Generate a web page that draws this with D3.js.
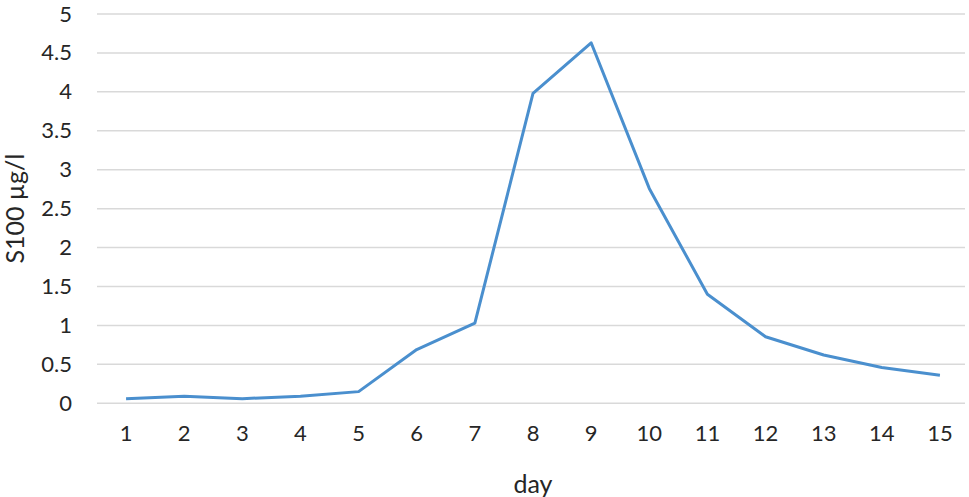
<!DOCTYPE html>
<html><head><meta charset="utf-8">
<script src="https://cdn.jsdelivr.net/npm/d3@7"></script>
<style>body{margin:0;background:#fff}svg{display:block}text{font-family:Lato,"Open Sans",sans-serif;fill:#262626}</style>
</head><body>
<script>
const days = ["1","2","3","4","5","6","7","8","9","10","11","12","13","14","15"];
const s100 = [0.06,0.09,0.06,0.09,0.15,0.69,1.03,3.98,4.63,2.76,1.40,0.855,0.62,0.46,0.36];
const yTicks = [0,0.5,1,1.5,2,2.5,3,3.5,4,4.5,5];
const yTickLabels = ["0","0.5","1","1.5","2","2.5","3","3.5","4","4.5","5"];
const xTitle = "day", yTitle = "S100 µg/l";

const W=969,H=497, L=97, R=969, T=14, B=403.3;
const svg=d3.select("body").append("svg").attr("width",W).attr("height",H);
const x=d3.scaleBand().domain(days).range([L,R]);
const y=d3.scaleLinear().domain([0,5]).range([B,T]);

svg.append("g").selectAll("line").data(yTicks).join("line")
  .attr("x1",L).attr("x2",965).attr("y1",d=>y(d)).attr("y2",d=>y(d))
  .attr("stroke","#d9d9d9").attr("stroke-width",1.5);

const ya=svg.append("g").attr("transform",`translate(${L},0)`)
  .call(d3.axisLeft(y).tickValues(yTicks).tickFormat((d,i)=>yTickLabels[i]).tickSize(0).tickPadding(25));
ya.select(".domain").remove();
ya.selectAll("text").attr("font-size",22).attr("font-family","Lato").attr("fill","#262626");

const xa=svg.append("g").attr("transform",`translate(0,${B})`)
  .call(d3.axisBottom(x).tickSize(0).tickPadding(22));
xa.select(".domain").remove();
xa.selectAll("text").attr("font-size",22).attr("font-family","Lato").attr("fill","#262626");

const line=d3.line().x((d,i)=>x(days[i])+x.bandwidth()/2).y(d=>y(d));
svg.append("path").datum(s100).attr("d",line).attr("fill","none")
  .attr("stroke","#4a8fce").attr("stroke-width",3).attr("stroke-linejoin","round");

svg.append("text").attr("x",(L+R)/2).attr("y",493).attr("text-anchor","middle")
  .attr("font-size",25).text(xTitle);
svg.append("text").attr("transform",`translate(24,${(T+B)/2}) rotate(-90)`).attr("text-anchor","middle")
  .attr("font-size",25).text(yTitle);
</script>
</body></html>
